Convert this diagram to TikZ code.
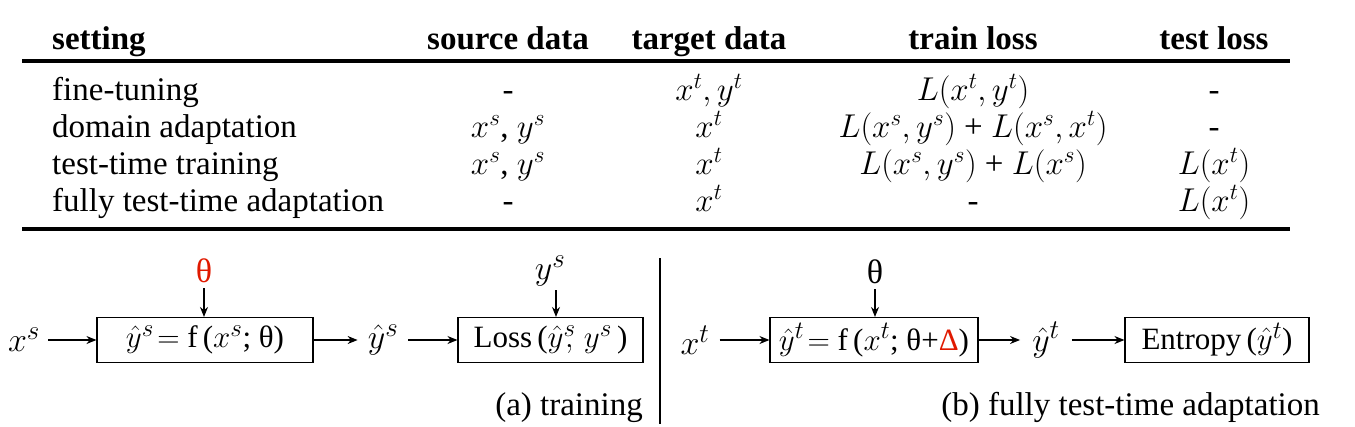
\RequirePackage{fix-cm}
\documentclass[tikz,border=0pt]{standalone}
\usepackage{fontspec}
\setmainfont{Liberation Serif}[Ligatures=TeX]
\newfontfamily\tms{Liberation Serif}
\DeclareMathSizes{34}{34}{27}{20}
\DeclareMathSizes{31}{31}{25}{19}
\usetikzlibrary{arrows.meta}
\begin{document}
\begin{tikzpicture}[x=1pt,y=-1pt,
  txt/.style={font=\tms\fontsize{33}{40}\selectfont,inner sep=0pt,anchor=base},
  hdr/.style={txt,font=\tms\fontsize{33}{40}\selectfont\bfseries},
  lbl/.style={font=\tms\fontsize{34}{40}\selectfont,inner sep=0pt},
  boxn/.style={draw,line width=1.1pt,font=\tms\fontsize{31}{36}\selectfont,minimum height=45pt,inner sep=0pt},
  rule/.style={line width=3.6pt},
  arr/.style={line width=1.1pt,-{Stealth[length=10pt,width=8pt]}}]
\useasboundingbox (0,0) rectangle (1355,426);
% header
\node[hdr,anchor=base west] (h1) at (52,49) {setting};
\node[hdr] (h2) at (508,49) {source data};
\node[hdr] (h3) at (709,49) {target data};
\node[hdr] (h4) at (973,49) {train loss};
\node[hdr] (h5) at (1214,49) {test loss};
\coordinate (tl) at (22,61); \coordinate (tr) at (1290,61);
\coordinate (bl) at (22,229); \coordinate (br) at (1290,229);
\draw[rule] (tl) -- (tr);
\draw[rule] (bl) -- (br);
% row 1
\node[txt,anchor=base west] (r1a) at (52,100) {fine-tuning};
\node[txt] (r1b) at (508,100) {-};
\node[txt] (r1c) at (709,100) {$x^t, y^t$};
\node[txt] (r1d) at (973,100) {$L(x^t, y^t)$};
\node[txt] (r1e) at (1214,100) {-};
% row 2
\node[txt,anchor=base west] (r2a) at (52,137) {domain adaptation};
\node[txt] (r2b) at (508,137) {$x^s$, $y^s$};
\node[txt] (r2c) at (709,137) {$x^t$};
\node[txt] (r2d) at (973,137) {$L(x^s, y^s)$ + $L(x^s, x^t)$};
\node[txt] (r2e) at (1214,137) {-};
% row 3
\node[txt,anchor=base west] (r3a) at (52,174) {test-time training};
\node[txt] (r3b) at (508,174) {$x^s$, $y^s$};
\node[txt] (r3c) at (709,174) {$x^t$};
\node[txt] (r3d) at (973,174) {$L(x^s, y^s)$ + $L(x^s)$};
\node[txt] (r3e) at (1214,174) {$L(x^t)$};
% row 4
\node[txt,anchor=base west] (r4a) at (52,211) {fully test-time adaptation};
\node[txt] (r4b) at (508,211) {-};
\node[txt] (r4c) at (709,211) {$x^t$};
\node[txt] (r4d) at (973,211) {-};
\node[txt] (r4e) at (1214,211) {$L(x^t)$};
% divider
\coordinate (d1) at (660,258); \coordinate (d2) at (660,424);
\draw[line width=1.1pt] (d1) -- (d2);
% (a) training
\node[lbl] (xs) at (24,340) {$x^s$};
\node[boxn,minimum width=216pt] (b1) at (205,340) {$\hat{y}^s\!=$ f\,($x^s$; θ)};
\node[lbl] (yhs) at (383,340) {$\hat{y}^s$};
\node[boxn,minimum width=185pt] (b2) at (550.5,340) {Loss\,($\hat{y}^s\!\!,\, y^s$\,)};
\node[lbl,text=red!85!black!80!orange] (th1) at (204,271) {θ};
\node[lbl] (ys) at (550,271) {$y^s$};
\draw[arr] ([xshift=8pt]xs.east) -- (b1.west);
\draw[arr] (b1.east) -- ([xshift=-10pt]yhs.west);
\draw[arr] ([xshift=10pt]yhs.east) -- (b2.west);
\draw[arr] ([yshift=-5pt]th1.south) -- (th1.south|-b1.north);
\coordinate (ysa) at (556,290);
\draw[arr] (ysa) -- (ysa|-b2.north);
\node[txt,anchor=base east] (capa) at (643,415) {(a) training};
% (b) fully test-time adaptation
\node[lbl] (xt) at (695,340) {$x^t$};
\node[boxn,minimum width=208pt] (b3) at (874,340) {$\hat{y}^t\!=$ f\,($x^t$; θ+{\color{red!85!black!80!orange}Δ})};
\node[lbl] (yht) at (1046,340) {$\hat{y}^t$};
\node[boxn,minimum width=184pt] (b4) at (1217,340) {Entropy\,($\hat{y}^t$)};
\node[lbl] (th2) at (875,272) {θ};
\draw[arr] ([xshift=10pt]xt.east) -- (b3.west);
\draw[arr] (b3.east) -- ([xshift=-12pt]yht.west);
\draw[arr] ([xshift=12pt]yht.east) -- (b4.west);
\draw[arr] ([yshift=-5pt]th2.south) -- (th2.south|-b3.north);
\node[txt,anchor=base east] (capb) at (1320,415) {(b) fully test-time adaptation};
\end{tikzpicture}
\end{document}
